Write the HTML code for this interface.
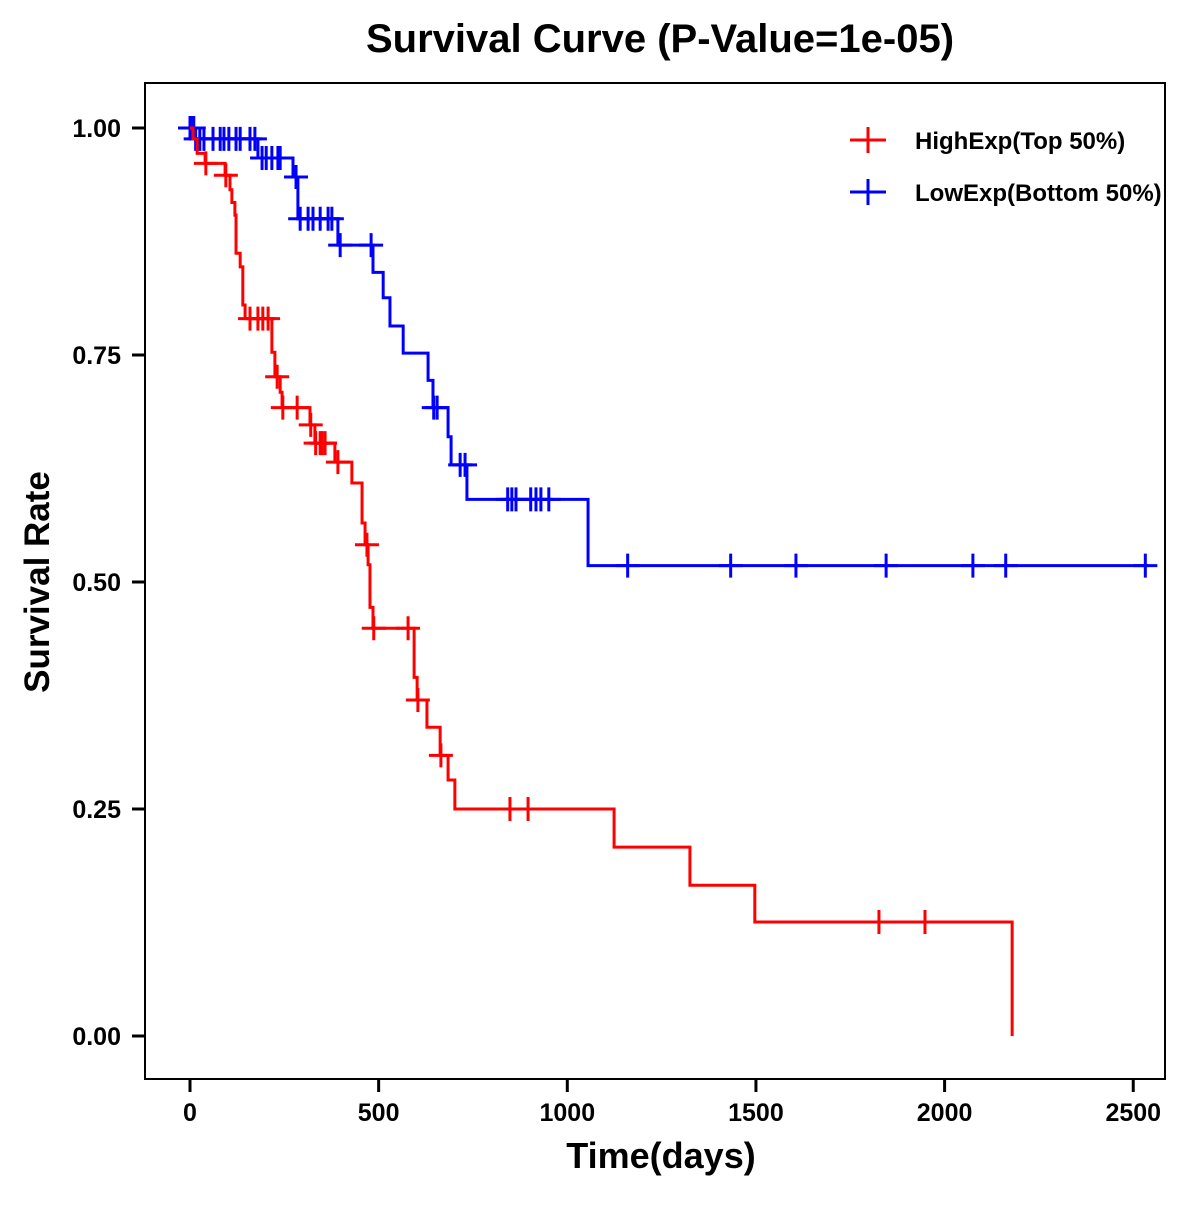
<!DOCTYPE html>
<html><head><meta charset="utf-8"><style>
body{margin:0;background:#fff;}
svg text{font-family:"Liberation Sans",Arial,sans-serif;font-weight:bold;fill:#000;}
</style></head><body>
<svg id="chart" width="1200" height="1200" xmlns="http://www.w3.org/2000/svg">
<rect width="1200" height="1200" fill="#fff"/>
<text x="660" y="52" font-size="40" text-anchor="middle">Survival Curve (P-Value=1e-05)</text>
<rect x="145" y="83" width="1020" height="996" fill="none" stroke="#000" stroke-width="2"/>
<g id="axes"></g>
<g id="series"></g>
<text x="661" y="1168" font-size="36" text-anchor="middle">Time(days)</text>
<text transform="translate(49,582) rotate(-90)" font-size="35" text-anchor="middle">Survival Rate</text>
<g>
<g>
<line x1="850" y1="140" x2="886" y2="140" stroke="#f00" stroke-width="3"/><line x1="868" y1="127" x2="868" y2="153" stroke="#f00" stroke-width="3"/>
<text x="915" y="149" font-size="24">HighExp(Top 50%)</text></g>
<g>
<line x1="850" y1="192" x2="886" y2="192" stroke="#00f" stroke-width="3"/><line x1="868" y1="179" x2="868" y2="205" stroke="#00f" stroke-width="3"/>
<text x="915" y="201" font-size="24">LowExp(Bottom 50%)</text></g>
</g>
</svg>
<script>
const xTicks=[0,500,1000,1500,2000,2500];
const yTicks=[0,0.25,0.5,0.75,1.0];
const yTickLabels=["0.00","0.25","0.50","0.75","1.00"];
const highTimes=[8,19,40,93,106,111,119,122,133,140,146,217,225,239,244,318,331,384,429,456,464,472,477,485,594,602,628,663,684,702,1124,1325,1497,2179];
const highSurv=[0.988,0.972,0.961,0.948,0.932,0.918,0.904,0.862,0.847,0.805,0.790,0.753,0.726,0.709,0.692,0.673,0.653,0.632,0.609,0.565,0.541,0.519,0.472,0.449,0.395,0.370,0.340,0.309,0.282,0.250,0.208,0.166,0.1256,0];
const highCensor=[42,95,159,180,193,207,231,246,284,320,333,345,350,358,392,469,487,578,604,665,848,896,1826,1948];
const lowTimes=[13,180,273,286,392,485,512,530,565,631,644,684,692,734,1055];
const lowSurv=[0.988,0.967,0.946,0.900,0.871,0.841,0.813,0.782,0.752,0.722,0.692,0.660,0.629,0.591,0.518];
const lowCensor=[0,5,10,15,26,37,61,80,90,103,122,133,159,172,191,202,217,233,239,281,292,313,326,345,366,376,398,480,646,655,716,729,842,853,864,903,917,930,951,1160,1433,1606,1845,2075,2162,2532];
const X=t=>190+t*0.3773;
const Y=s=>1036-s*908;
const NS="http://www.w3.org/2000/svg";
function mk(tag,attrs,parent){const e=document.createElementNS(NS,tag);for(const k in attrs)e.setAttribute(k,attrs[k]);parent.appendChild(e);return e;}
const axes=document.getElementById('axes');
xTicks.forEach(t=>{
  const l=mk('line',{x1:X(t),x2:X(t),y1:1080,y2:1092,stroke:'#000','stroke-width':3},axes);
  
  
  const tx=mk('text',{x:X(t),y:1121,'font-size':25,'text-anchor':'middle'},axes);tx.textContent=t;
  
  
});
yTicks.forEach((v,i)=>{
  const l=mk('line',{x1:132,x2:144,y1:Y(v),y2:Y(v),stroke:'#000','stroke-width':3},axes);
  
  
  const tx=mk('text',{x:121,y:Y(v)+9,'font-size':25,'text-anchor':'end'},axes);tx.textContent=yTickLabels[i];
  
  
});
function survAt(times,surv,t){let s=1;for(let i=0;i<times.length;i++){if(times[i]<=t)s=surv[i];}return s;}
const g=document.getElementById('series');
function draw(times,surv,cens,color,name,endT){
  let d='M'+X(0)+','+Y(1);
  for(let i=0;i<times.length;i++){d+=' H'+X(times[i])+' V'+Y(surv[i]);}
  if(endT>times[times.length-1])d+=' H'+X(endT);
  const p=mk('path',{d:d,fill:'none',stroke:color,'stroke-width':3},g);
  
  
  cens.forEach(t=>{
    const y=Y(survAt(times,surv,t)),x=X(t);
    const c=mk('path',{d:'M'+(x-12)+','+y+' H'+(x+12)+' M'+x+','+(y-12)+' V'+(y+12),stroke:color,'stroke-width':3,fill:'none'},g);
    
    
  });
}
draw(lowTimes,lowSurv,lowCensor,'#00f','low-exp',2540);
draw(highTimes,highSurv,highCensor,'#f00','high-exp',2179);
</script>
</body></html>
